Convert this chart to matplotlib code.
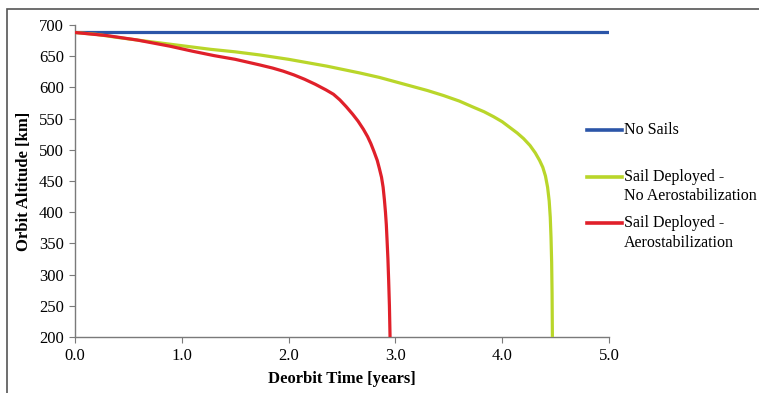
import matplotlib
matplotlib.use("Agg")
import matplotlib.pyplot as plt
from matplotlib.lines import Line2D
from matplotlib.patches import Rectangle

# ---- data ----
t_nosail = [0.0, 5.0]
h_nosail = [688, 688]

t_noaero = [0.0, 0.2, 0.4, 0.67, 0.9, 1.27, 1.5, 1.73, 2.0, 2.36, 2.67, 2.85, 3.0, 3.15,
            3.3, 3.45, 3.6, 3.72, 3.83, 3.92, 4.0, 4.07, 4.14, 4.2, 4.26, 4.31, 4.35, 4.38,
            4.405, 4.425, 4.44, 4.45, 4.457, 4.463, 4.467, 4.47]
h_noaero = [688, 685, 680, 674, 669, 661, 657, 652, 645, 634, 623, 616, 609, 602,
            595, 587, 578, 569, 561, 553, 545, 536, 527, 518, 507, 495, 483, 472,
            458, 440, 418, 392, 360, 320, 270, 200]

t_aero = [0.0, 0.3, 0.58, 0.89, 1.1, 1.3, 1.5, 1.73, 1.85, 1.95, 2.05, 2.15, 2.25, 2.35,
          2.42, 2.48, 2.54, 2.6, 2.65, 2.7, 2.74, 2.77, 2.8, 2.83, 2.85, 2.87, 2.885,
          2.897, 2.907, 2.915, 2.922, 2.93, 2.937, 2.944, 2.95]
h_aero = [688, 683, 676, 666, 658, 651, 645, 636, 631, 626, 620, 613, 605, 596,
          589, 580, 569, 557, 546, 533, 521, 510, 497, 483, 470, 456, 440,
          420, 400, 380, 355, 325, 290, 250, 200]

labels = ["No Sails", "Sail Deployed -\nNo Aerostabilization", "Sail Deployed -\nAerostabilization"]
colors = ["#2B55A8", "#B9D62A", "#E0202A"]

xticks = [0.0, 1.0, 2.0, 3.0, 4.0, 5.0]
yticks = [200, 250, 300, 350, 400, 450, 500, 550, 600, 650, 700]

plt.rcParams["font.family"] = ["Liberation Serif", "DejaVu Serif"]

W, H = 759, 393
fig = plt.figure(figsize=(W / 100, H / 100), dpi=100)
ax = fig.add_axes([75 / W, 1 - 337 / H, (609 - 75) / W, (337 - 25) / H])

series = [(t_nosail, h_nosail), (t_noaero, h_noaero), (t_aero, h_aero)]
lines = []
for (t, h), c, lab in zip(series, colors, labels):
    ln, = ax.plot(t, h, color=c, lw=2.3, label=lab, solid_capstyle="butt",
                  solid_joinstyle="round", zorder=3)
    lines.append(ln)

ax.set_xlim(0, 5)
ax.set_ylim(200, 700)
ax.set_xticks(xticks)
ax.set_xticklabels([f"{v:.1f}" for v in xticks])
ax.set_yticks(yticks)
ax.set_yticklabels([str(v) for v in yticks])
for s in ["top", "right"]:
    ax.spines[s].set_visible(False)
for s in ["left", "bottom"]:
    ax.spines[s].set_color("#7a7a7a")
    ax.spines[s].set_linewidth(1.0)
ax.tick_params(direction="out", length=4, color="#7a7a7a", labelsize=12, pad=4)
ax.set_xlabel("Deorbit Time [years]", fontsize=12, fontweight="bold", labelpad=5)
ax.set_ylabel("Orbit Altitude [km]", fontsize=12, fontweight="bold", labelpad=5)

# ---- legend (Excel style: handle aligned with first text line) ----
entries_y = [130, 177, 223]
for ln, y in zip(lines, entries_y):
    yf = 1 - y / H
    fig.add_artist(Line2D([587 / W, 622 / W], [yf, yf], color=ln.get_color(), lw=2.6,
                          transform=fig.transFigure))
    for i, part in enumerate(ln.get_label().split("\n")):
        fig.text(624 / W, 1 - (y + 19.5 * i) / H, part, fontsize=11.5, va="center",
                 ha="left", transform=fig.transFigure)

# outer frame
fig.add_artist(Rectangle((7 / W, -0.05), 1.2, 1 - 9 / H + 0.05, transform=fig.transFigure,
                         fill=False, edgecolor="#555555", lw=1.2, clip_on=False))

fig.savefig("out.png", dpi=100)
